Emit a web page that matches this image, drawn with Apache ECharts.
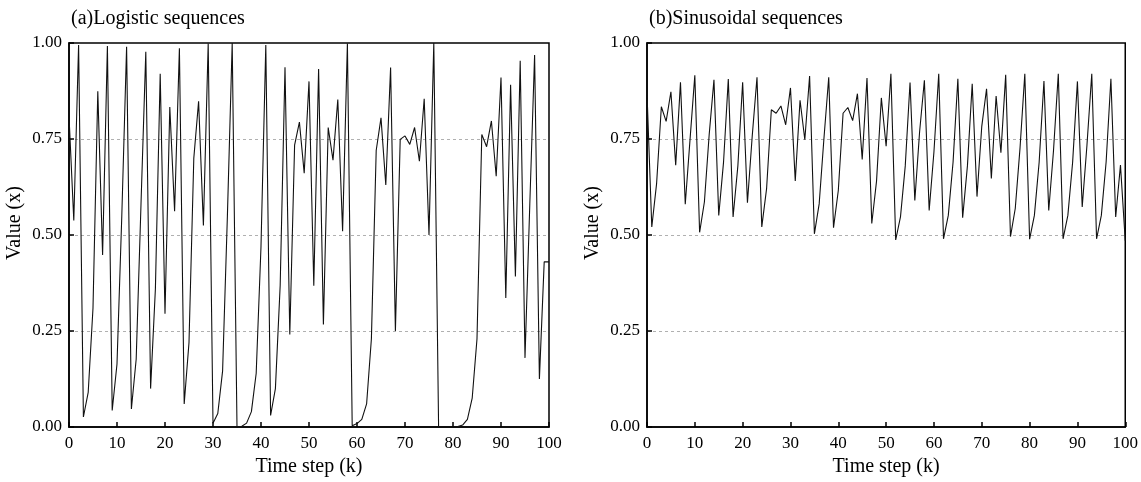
<!DOCTYPE html>
<html>
<head>
<meta charset="utf-8">
<script src="https://cdn.jsdelivr.net/npm/echarts@6/dist/echarts.min.js"></script>
<style>
    body { margin: 0; background: #fff; }
    #main { width: 1141px; height: 482px; }
</style>
</head>
<body>
<div id="main"></div>
<script type="text/javascript">
    // values, one per time step k = 0..100
    var logisticValues = [
        0.81, 0.538, 0.995, 0.026, 0.09, 0.31, 0.874, 0.448, 0.992, 0.043,
        0.164, 0.55, 0.99, 0.047, 0.177, 0.58, 0.977, 0.10, 0.36, 0.92,
        0.295, 0.833, 0.562, 0.986, 0.06, 0.22, 0.70, 0.848, 0.525, 0.999,
        0.01, 0.035, 0.146, 0.55, 1.0, 0.0, 0.002, 0.01, 0.04, 0.14,
        0.47, 0.995, 0.03, 0.10, 0.37, 0.937, 0.241, 0.734, 0.794, 0.661,
        0.90, 0.368, 0.932, 0.267, 0.78, 0.695, 0.853, 0.51, 0.999, 0.003,
        0.009, 0.02, 0.06, 0.23, 0.72, 0.805, 0.63, 0.936, 0.25, 0.749,
        0.758, 0.736, 0.78, 0.692, 0.855, 0.50, 1.0, 0.0, 0.0, 0.0,
        0.0, 0.001, 0.005, 0.02, 0.075, 0.23, 0.762, 0.73, 0.797, 0.653,
        0.91, 0.336, 0.891, 0.392, 0.954, 0.18, 0.58, 0.969, 0.125, 0.43,
        0.43
    ];
    var sinusoidalValues = [
        0.87, 0.521, 0.633, 0.834, 0.796, 0.873, 0.682, 0.898, 0.58, 0.749,
        0.916, 0.507, 0.586, 0.761, 0.904, 0.551, 0.689, 0.906, 0.547, 0.68,
        0.898, 0.584, 0.757, 0.911, 0.521, 0.62, 0.826, 0.817, 0.836, 0.787,
        0.883, 0.641, 0.851, 0.748, 0.914, 0.503, 0.581, 0.752, 0.911, 0.519,
        0.616, 0.817, 0.832, 0.798, 0.868, 0.697, 0.909, 0.53, 0.641, 0.857,
        0.731, 0.92, 0.487, 0.547, 0.68, 0.897, 0.59, 0.769, 0.903, 0.564,
        0.717, 0.92, 0.49, 0.551, 0.69, 0.907, 0.545, 0.68, 0.894, 0.60,
        0.783, 0.881, 0.647, 0.862, 0.714, 0.917, 0.496, 0.569, 0.727, 0.92,
        0.489, 0.551, 0.69, 0.901, 0.564, 0.72, 0.92, 0.49, 0.551, 0.69,
        0.9, 0.573, 0.735, 0.92, 0.49, 0.551, 0.69, 0.907, 0.547, 0.682,
        0.485
    ];
    var panelTitles = ['(a)Logistic sequences', '(b)Sinusoidal sequences'];
    var xName = 'Time step (k)';
    var yName = 'Value (x)';

    var serif = 'Liberation Serif';

    function toPairs(arr) {
        return arr.map(function(v, k) {
            return [k, v];
        });
    }

    function makeXAxis(idx) {
        return {
            type: 'value',
            gridIndex: idx,
            min: 0,
            max: 100,
            interval: 10,
            name: xName,
            nameLocation: 'middle',
            nameGap: 30,
            nameTextStyle: { fontFamily: serif, fontSize: 20, color: '#000' },
            axisLine: { lineStyle: { color: '#000', width: 1.5 } },
            axisTick: { inside: true, length: 5, lineStyle: { color: '#000', width: 1.5 } },
            axisLabel: { fontFamily: serif, fontSize: 17, color: '#000', margin: 8 },
            splitLine: { show: false }
        };
    }

    function makeYAxis(idx) {
        return {
            type: 'value',
            gridIndex: idx,
            min: 0,
            max: 1,
            interval: 0.25,
            name: yName,
            nameLocation: 'middle',
            nameGap: 44,
            nameTextStyle: { fontFamily: serif, fontSize: 20, color: '#000', padding: [0, 0, 0, 24] },
            axisLine: { lineStyle: { color: '#000', width: 1.5 } },
            axisTick: { inside: true, length: 5, lineStyle: { color: '#000', width: 1.5 } },
            axisLabel: {
                fontFamily: serif, fontSize: 17, color: '#000', margin: 7,
                formatter: function(v) { return v.toFixed(2); }
            },
            splitLine: {
                show: true,
                showMinLine: false,
                showMaxLine: false,
                lineStyle: { color: '#b0b0b0', type: [3, 3], width: 1 }
            }
        };
    }

    var myChart = echarts.init(document.getElementById('main'));
    option = {
        animation: false,
        backgroundColor: '#fff',
        title: [
            { text: panelTitles[0], left: 66, top: 4, textStyle: { fontFamily: serif, fontSize: 20, fontWeight: 'normal', color: '#000' } },
            { text: panelTitles[1], left: 644, top: 4, textStyle: { fontFamily: serif, fontSize: 20, fontWeight: 'normal', color: '#000' } }
        ],
        grid: [
            { left: 69, top: 43, width: 480, height: 387, show: true, borderColor: '#000', borderWidth: 1.5 },
            { left: 647, top: 43, width: 482, height: 388, show: true, borderColor: '#000', borderWidth: 1.5 }
        ],
        xAxis: [makeXAxis(0), makeXAxis(1)],
        yAxis: [makeYAxis(0), makeYAxis(1)],
        series: [
            {
                type: 'line',
                xAxisIndex: 0,
                yAxisIndex: 0,
                data: toPairs(logisticValues),
                symbol: 'none',
                lineStyle: { color: '#111', width: 1.1 }
            },
            {
                type: 'line',
                xAxisIndex: 1,
                yAxisIndex: 1,
                data: toPairs(sinusoidalValues),
                symbol: 'none',
                lineStyle: { color: '#111', width: 1.1 }
            }
        ]
    };
    myChart.setOption(option);
</script>
</body>
</html>
